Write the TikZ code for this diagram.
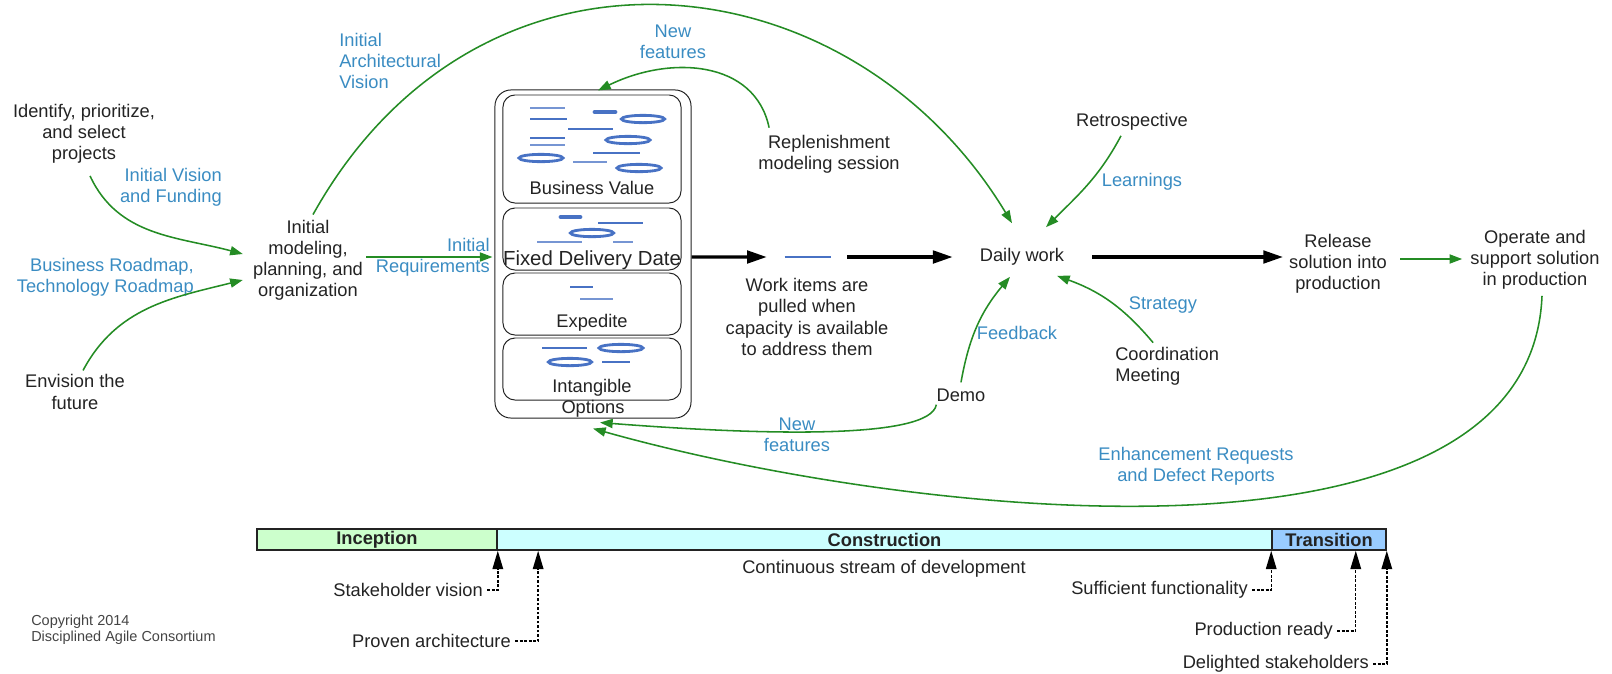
\documentclass[tikz,border=0pt]{standalone}
\usepackage{fontspec}
\setmainfont{Liberation Sans}
\usepackage{tikz}
\usepackage{xcolor}
\usetikzlibrary{arrows.meta}

\begin{document}
\begin{tikzpicture}[x=0.025cm, y=-0.025cm,
	txt/.style={font=\fontsize{13}{15}\selectfont, align=center, inner sep=0pt, text=INK},
	cue/.style={txt, text=CUE},
	feed/.style={-{Triangle[length=9pt, width=6.5pt]}, line width=1.1pt, color=GREEN},
	flow/.style={-{Triangle[length=14pt, width=9pt]}, line width=2.2pt, color=black},
	milestone/.style={-{Triangle[length=13pt, width=7.5pt]}, line width=1pt, dash pattern=on 2pt off 1.2pt, color=black},
	lane/.style={draw=INK, line width=0.7pt, rounded corners=0.3cm, minimum width=4.45cm, inner sep=0pt},
	phase/.style={draw=INK, line width=1.1pt, minimum height=0.525cm, inner sep=0pt, font=\fontsize{13}{15}\selectfont\bfseries, text=INK},
	glyph/.style={line width=2pt, color=GLYPH},
	glyphlight/.style={line width=1.1pt, color=GLYPH!75},
	glyphbold/.style={line width=3.4pt, color=GLYPH, line cap=round}]
			\definecolor{INK}{RGB}{35, 35, 35}
			\definecolor{CUE}{RGB}{58, 140, 194}
			\definecolor{GREEN}{RGB}{36, 140, 36}
			\definecolor{GLYPH}{RGB}{72, 114, 196}
			\definecolor{INCEPTION}{RGB}{204, 255, 204}
			\definecolor{CONSTRUCTION}{RGB}{204, 255, 255}
			\definecolor{TRANSITION}{RGB}{153, 204, 255}
			\useasboundingbox (0, 0) rectangle (1612, 673);
			% inception side
			\node[txt] (identify) at (84, 134) {Identify, prioritize,\\and select\\projects};
			\node[cue, anchor=east, align=right] (visionfund) at (222, 187) {Initial Vision\\and Funding};
			\node[cue, anchor=east, align=right] (roadmap) at (194, 277) {Business Roadmap,\\Technology Roadmap};
			\node[txt] (envision) at (75, 392) {Envision the\\future};
			\node[txt] (initmodel) at (308, 260) {Initial\\modeling,\\planning, and\\organization};
			\node[cue, anchor=east, align=right] (initreq) at (490, 257) {Initial\\Requirements};
			\node[cue, anchor=west, align=left] (archvision) at (339, 61) {Initial\\Architectural\\Vision};
			% options box
			\node[draw=INK, line width=0.7pt, rounded corners=0.4cm, minimum width=4.9cm, minimum height=8.2cm, inner sep=0pt] (options) at (593, 254) {};
			\node[lane, minimum height=2.7cm] (bizvalue) at (592, 149) {};
			\node[lane, minimum height=1.55cm] (fixeddate) at (592, 239) {};
			\node[lane, minimum height=1.55cm] (expedite) at (592, 304) {};
			\node[lane, minimum height=1.55cm] (intangible) at (592, 369) {};
			\node[txt] (bizvaluetext) at (592, 188) {Business Value};
			\node[txt, font=\fontsize{14.5}{15}\selectfont] (fixeddatetext) at (592, 260) {Fixed Delivery Date};
			\node[txt] (expeditetext) at (592, 323) {Expedite};
			\node[txt] (intangibletext) at (592, 388) {Intangible};
			\node[txt] (optionstext) at (593, 409) {Options};
			\draw[glyphlight] (530, 108) -- (565, 108);
			\draw[glyph] (530, 119) -- (567, 119);
			\draw[glyphbold] (595, 112) -- (615, 112);
			\draw[glyph] (643, 119) ellipse [x radius=0.54cm, y radius=2.6pt];
			\draw[glyph] (568, 129) -- (613, 129);
			\draw[glyph] (530, 138) -- (565, 138);
			\draw[glyphlight] (530, 145) -- (565, 145);
			\draw[glyph] (628, 140) ellipse [x radius=0.55cm, y radius=2.6pt];
			\draw[glyph] (541, 158) ellipse [x radius=0.55cm, y radius=2.6pt];
			\draw[glyph] (593, 153) -- (640, 153);
			\draw[glyphlight] (573, 162) -- (607, 162);
			\draw[glyph] (639, 168) ellipse [x radius=0.55cm, y radius=2.6pt];
			\draw[glyphbold] (561, 217) -- (580, 217);
			\draw[glyph] (598, 223) -- (643, 223);
			\draw[glyph] (592, 233) ellipse [x radius=0.54cm, y radius=2.6pt];
			\draw[glyphlight] (537, 242) -- (582, 242);
			\draw[glyphlight] (613, 242) -- (633, 242);
			\draw[glyph] (570, 287) -- (593, 287);
			\draw[glyphlight] (580, 299) -- (613, 299);
			\draw[glyph] (542, 348) -- (587, 348);
			\draw[glyph] (621, 348) ellipse [x radius=0.55cm, y radius=2.6pt];
			\draw[glyph] (570, 362) ellipse [x radius=0.54cm, y radius=2.6pt];
			\draw[glyph] (602, 362) -- (630, 362);
			% construction loop
			\node[minimum width=1.15cm, minimum height=0.2cm, inner sep=0pt] (item) at (808, 257) {};
			\node[txt] (workitems) at (807, 317) {Work items are\\pulled when\\capacity is available\\to address them};
			\node[txt] (replenish) at (829, 154) {Replenishment\\modeling session};
			\node[cue] (newtop) at (673, 42) {New\\features};
			\node[txt] (daily) at (1022, 257) {Daily work};
			\node[txt] (retro) at (1132, 122) {Retrospective};
			\node[cue] (learnings) at (1142, 182) {Learnings};
			\node[cue] (strategy) at (1163, 305) {Strategy};
			\node[txt, anchor=west, align=left] (coordination) at (1115, 366) {Coordination\\Meeting};
			\node[cue] (feedback) at (1017, 333) {Feedback};
			\node[txt] (demo) at (961, 395) {Demo};
			\node[cue] (newbottom) at (797, 435) {New\\features};
			\node[cue] (enhance) at (1196, 466) {Enhancement Requests\\and Defect Reports};
			\node[txt] (release) at (1338, 264) {Release\\solution into\\production};
			\node[txt] (operate) at (1535, 260) {Operate and\\support solution\\in production};
			% phases
			\node[phase, fill=INCEPTION, minimum width=6cm] (inception) at (377, 539.5) {Inception};
			\node[phase, fill=CONSTRUCTION, minimum width=19.375cm] (construction) at (884.5, 539.5) {Construction};
			\node[phase, fill=TRANSITION, minimum width=2.85cm] (transition) at (1329, 539.5) {Transition};
			\node[txt] (stream) at (884, 569) {Continuous stream of development};
			\node[txt, anchor=east] (stakeholder) at (483, 590) {Stakeholder vision};
			\node[txt, anchor=east] (proven) at (511, 641) {Proven architecture};
			\node[txt, anchor=east] (sufficient) at (1248, 590) {Sufficient functionality};
			\node[txt, anchor=east] (ready) at (1333, 631) {Production ready};
			\node[txt, anchor=east] (delighted) at (1369, 664) {Delighted stakeholders};
			\node[txt, anchor=west, align=left, font=\fontsize{10.3}{11.7}\selectfont, text=INK!85] (copyright) at (31, 630) {Copyright 2014\\Disciplined Agile Consortium};
			% connectors
			\draw[feed] ([shift={(6,12)}]identify.south) to[out=-65, in=165] ([shift={(-10,-6)}]initmodel.west);
			\draw[feed] ([shift={(8,-4)}]envision.north) to[out=62, in=-166] ([shift={(-10,20)}]initmodel.west);
			\draw[feed] ([shift={(3,-3)}]initmodel.east) -- ([shift={(-2,3)}]options.west);
			\draw[feed] ([shift={(5,-5)}]initmodel.north) .. controls (480, -85) and (850, -45) .. ([shift={(-10,-25)}]daily.north);
			\draw[feed] ([shift={(11,-7)}]replenish.north west) .. controls (755, 60) and (670, 55) .. ([shift={(5,1)}]options.north);
			\draw[feed] ([shift={(-11,5)}]retro.south) to[out=-118, in=45] ([shift={(24,-21)}]daily.north);
			\draw[feed] ([shift={(-14,-4)}]coordination.north) to[out=130, in=-20] ([shift={(35,10)}]daily.south);
			\draw[feed] ([shift={(0,-6)}]demo.north) to[out=80, in=-130] ([shift={(-12,11)}]daily.south);
			\draw[feed] ([shift={(0,3)}]demo.south west) .. controls (930, 440) and (760, 435) .. ([shift={(7,4)}]options.south);
			\draw[feed] ([shift={(7,6)}]operate.south) .. controls (1530, 590) and (900, 515) .. ([shift={(0,10)}]options.south);
			\draw[flow] ([yshift=-0.075cm]options.east) -- ([xshift=-0.45cm]item.west);
			\draw[glyph] (item.west) -- (item.east);
			\draw[flow] ([xshift=0.4cm]item.east) -- ([xshift=-0.675cm]daily.west);
			\draw[flow] ([xshift=0.7cm]daily.east) -- ([xshift=-0.15cm]daily.east -| release.west);
			\draw[feed] ([shift={(13,-5)}]release.east) -- ([shift={(-8,-5)}]release.east -| operate.west);
			\draw[milestone, shorten <=3pt] (stakeholder.east) -| (inception.south east);
			\draw[milestone, shorten <=3pt] (proven.east) -| ([xshift=1.05cm]construction.south west);
			\draw[milestone, shorten <=3pt] (sufficient.east) -| (transition.south west);
			\draw[milestone, shorten <=3pt] (ready.east) -| ([xshift=-0.775cm]transition.south east);
			\draw[milestone, shorten <=3pt] (delighted.east) -| (transition.south east);
		\end{tikzpicture}
\end{document}
